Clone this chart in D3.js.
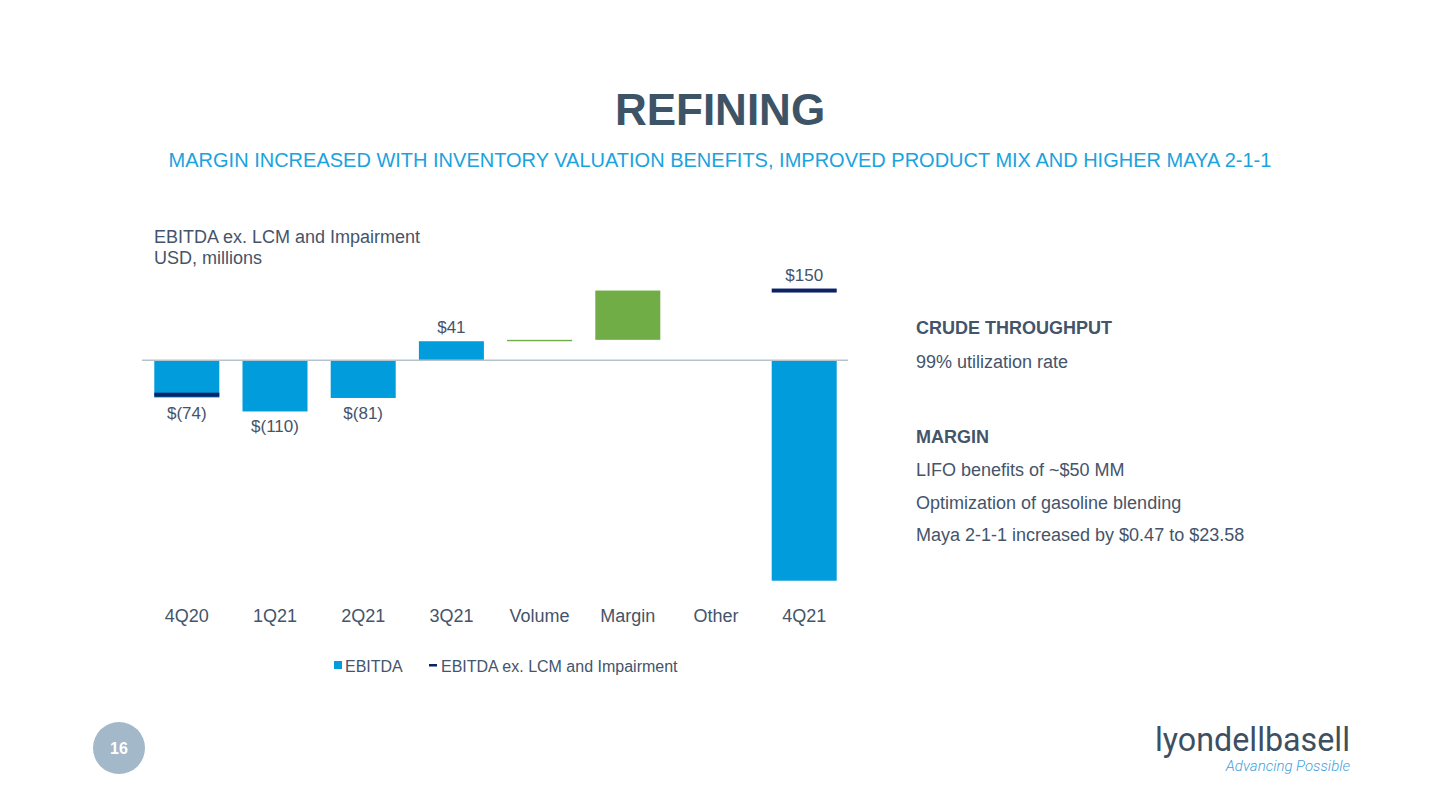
<!DOCTYPE html>
<html><head><meta charset="utf-8">
<script src="https://cdn.jsdelivr.net/npm/d3@7"></script>
<style>body{margin:0;background:#fff}svg{display:block;font-family:"Liberation Sans",Arial,sans-serif}</style>
</head><body><svg id="c" width="1440" height="810"></svg>
<script>
const categories = ["4Q20","1Q21","2Q21","3Q21","Volume","Margin","Other","4Q21"];
const ebitda = [-80, -110, -81, 41, null, null, null, -474];
const ebitdaExLcm = [-74, null, null, null, null, null, null, 150];
const bridgeCats = ["Volume","Margin","Other"];
const bridgeDeltas = [3, 106, 0];
const bridgeStart = 41;
const valueLabels = ["$(74)","$(110)","$(81)","$41",null,null,null,"$150"];
const legendLabels = ["EBITDA","EBITDA ex. LCM and Impairment"];
const sideNotes = [
  {t:"CRUDE THROUGHPUT", b:true},
  {t:"99% utilization rate", b:false},
  {t:"MARGIN", b:true},
  {t:"LIFO benefits of ~$50 MM", b:false},
  {t:"Optimization of gasoline blending", b:false},
  {t:"Maya 2-1-1 increased by $0.47 to $23.58", b:false}
];

const svg = d3.select("#c");
const C = {blue:"#009cdc", navy:"#0b2266", green:"#70ad47", text:"#44546a", title:"#3d5366", sub:"#1aa3dd"};

svg.append("text").attr("x",720).attr("y",125).attr("text-anchor","middle")
  .attr("font-size",44).attr("font-weight","bold").attr("fill",C.title).text("REFINING");
svg.append("text").attr("x",720).attr("y",167).attr("text-anchor","middle")
  .attr("font-size",20).attr("fill",C.sub)
  .text("MARGIN INCREASED WITH INVENTORY VALUATION BENEFITS, IMPROVED PRODUCT MIX AND HIGHER MAYA 2-1-1");

svg.append("text").attr("x",154).attr("y",242.5).attr("font-size",18).attr("fill",C.text).text("EBITDA ex. LCM and Impairment");
svg.append("text").attr("x",154).attr("y",263.5).attr("font-size",18).attr("fill",C.text).text("USD, millions");

const x = d3.scaleBand().domain(categories).range([142.7, 848.3]).paddingInner(0.263).paddingOuter(0.1315);
const y = d3.scaleLinear().domain([-500, 200]).range([592.8, 267.3]);

const g = svg.append("g");
// EBITDA bars
const eb = categories.map((c,i)=>({c, v:ebitda[i], i})).filter(d=>d.v!==null);
g.selectAll("rect.eb").data(eb).join("rect").attr("class","eb")
  .attr("x",d=>x(d.c)).attr("width",x.bandwidth())
  .attr("y",d=>y(Math.max(0,d.v))).attr("height",d=>Math.abs(y(d.v)-y(0)))
  .attr("fill",C.blue);
// bridge
let cum = bridgeStart;
const br = bridgeCats.map((c,i)=>{const s=cum; cum+=bridgeDeltas[i]; return {c, s, e:cum};});
g.selectAll("rect.br").data(br.filter(d=>d.e!==d.s)).join("rect").attr("class","br")
  .attr("x",d=>x(d.c)).attr("width",x.bandwidth())
  .attr("y",d=>y(Math.max(d.s,d.e))).attr("height",d=>Math.abs(y(d.s)-y(d.e)))
  .attr("fill",C.green);
// zero line
g.append("line").attr("x1",142).attr("x2",848).attr("y1",y(0)).attr("y2",y(0))
  .attr("stroke","#b5c3cf").attr("stroke-width",1.5);
// ex LCM markers
const ex = categories.map((c,i)=>({c, v:ebitdaExLcm[i]})).filter(d=>d.v!==null);
g.selectAll("rect.ex").data(ex).join("rect").attr("class","ex")
  .attr("x",d=>x(d.c)).attr("width",x.bandwidth())
  .attr("y",d=>y(d.v)-2).attr("height",4).attr("fill",C.navy);
// value labels
const lab = categories.map((c,i)=>{
  if(!valueLabels[i]) return null;
  const vals=[ebitda[i],ebitdaExLcm[i]].filter(v=>v!==null);
  const ref = vals.length? (ebitda[i]<0 && i<7 ? Math.min(...vals) : (ebitdaExLcm[i]!==null? ebitdaExLcm[i]:ebitda[i])) : 0;
  return {c, t:valueLabels[i], ref};
}).filter(Boolean);
g.selectAll("text.vl").data(lab).join("text").attr("class","vl")
  .attr("x",d=>x(d.c)+x.bandwidth()/2)
  .attr("y",d=>d.ref<0 ? y(d.ref)+21 : y(d.ref)-(d.c==="4Q21"?10:8))
  .attr("text-anchor","middle").attr("font-size",17).attr("fill",C.text).text(d=>d.t);
// axis
const ax = svg.append("g").attr("transform","translate(0,600)").call(d3.axisBottom(x).tickSize(0).tickPadding(0));
ax.select(".domain").remove();
ax.selectAll("text").attr("font-size",18).attr("fill",C.text).attr("font-family","Liberation Sans, Arial, sans-serif").attr("dy",21.5).attr("y",0);

// legend
const lg = svg.append("g");
lg.append("rect").attr("x",334).attr("y",661).attr("width",8).attr("height",8).attr("fill",C.blue);
lg.append("text").attr("x",345).attr("y",672).attr("font-size",16).attr("fill",C.text).text(legendLabels[0]);
lg.append("rect").attr("x",429).attr("y",664).attr("width",8).attr("height",2.5).attr("fill",C.navy);
lg.append("text").attr("x",441).attr("y",672).attr("font-size",16).attr("fill",C.text).text(legendLabels[1]);

// side notes
const noteY = [333.5, 367.5, 442.5, 475.5, 508.5, 540.5];
svg.selectAll("text.sn").data(sideNotes).join("text").attr("class","sn")
  .attr("x",916).attr("y",(d,i)=>noteY[i]).attr("font-size",18)
  .attr("font-weight",d=>d.b?"bold":"normal").attr("fill",C.text).text(d=>d.t);

// page number
svg.append("circle").attr("cx",119).attr("cy",748).attr("r",26).attr("fill","#a3b8c9");
svg.append("text").attr("x",119).attr("y",754).attr("text-anchor","middle").attr("font-size",16)
  .attr("font-weight","bold").attr("fill","#fff").text("16");

// logo
svg.append("text").attr("x",1155).attr("y",751).attr("font-family","Roboto, sans-serif").attr("font-size",34)
  .attr("font-weight",400).attr("fill","#3d4f61").attr("textLength",195).attr("lengthAdjust","spacingAndGlyphs").text("lyondellbasell");
svg.append("text").attr("x",1350).attr("y",771).attr("text-anchor","end").attr("font-family","Roboto, sans-serif").attr("font-size",15)
  .attr("font-style","italic").attr("font-weight",300).attr("fill","#3fa2dc").text("Advancing Possible");
</script></body></html>
